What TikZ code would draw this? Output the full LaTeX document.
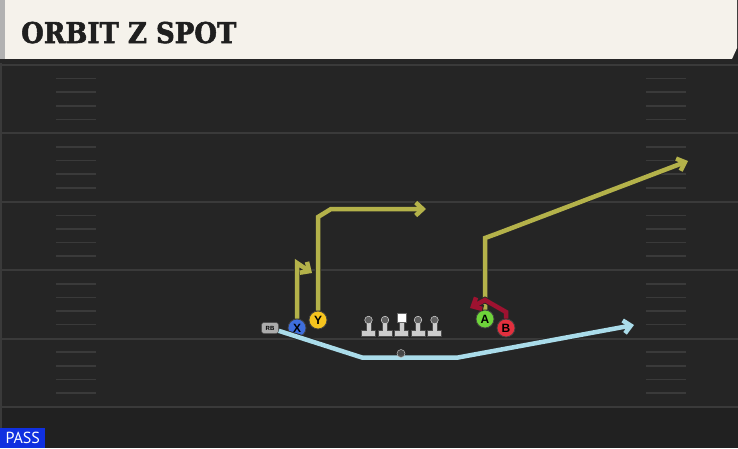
\documentclass[tikz,border=0pt]{standalone}
\usepackage{fontspec}
\setsansfont{Liberation Sans}
\newfontfamily\titlefont[BoldFeatures={FakeBold=2}]{DejaVu Serif}
\newfontfamily\tagfont{PT Sans}
\usepackage{tikz}
\usetikzlibrary{positioning}
\usetikzlibrary{arrows.meta}
\usetikzlibrary{calc}

\definecolor{fieldgray}{RGB}{37,37,37}
\definecolor{fieldlow}{RGB}{33,33,33}
\definecolor{yardline}{RGB}{58,58,58}
\definecolor{headcream}{RGB}{245,242,235}
\definecolor{routeolive}{RGB}{180,178,74}
\definecolor{routered}{RGB}{158,18,48}
\definecolor{routesky}{RGB}{170,220,234}
\definecolor{xblue}{RGB}{62,110,220}
\definecolor{yyellow}{RGB}{246,196,30}
\definecolor{agreen}{RGB}{110,212,58}
\definecolor{bred}{RGB}{226,48,62}
\definecolor{passblue}{RGB}{16,48,224}

\tikzset{
  player/.style={circle, draw=black!75, line width=0.8pt, fill=#1, minimum size=18pt,
    inner sep=0pt, font=\sffamily\bfseries\fontsize{12}{12}\selectfont},
  route/.style={draw=#1, line width=4.5pt, -{Straight Barb[length=7pt,width=13pt]},
    preaction={draw=black!85, line width=6.3pt}},
  hash/.style={draw=yardline, line width=1.6pt},
  rbtag/.style={rounded corners=2.5pt, fill=gray!65, draw=black!70, line width=0.5pt,
    font=\sffamily\bfseries\fontsize{6}{6}\selectfont, minimum width=17pt,
    minimum height=11pt, inner sep=0pt},
  lineman/.style={fill=gray!40, draw=black!70, line width=0.5pt}
}

\begin{document}
\begin{tikzpicture}[x=1pt,y=-1pt]
\useasboundingbox (0,0) rectangle (738,448);
\fill[fieldgray] (0,0) rectangle (738,448);
\fill[fieldlow] (0,407) rectangle (738,448);

\foreach \k in {0,...,5}
  \draw[yardline, line width=2pt] (0,{65+68.4*\k}) -- (738,{65+68.4*\k});
\foreach \k in {0,...,4}
  \foreach \m in {1,...,4} {
    \draw[hash] (56,{65+68.4*\k+13.6*\m}) -- (96,{65+68.4*\k+13.6*\m});
    \draw[hash] (646,{65+68.4*\k+13.6*\m}) -- (686,{65+68.4*\k+13.6*\m});
  }
\draw[yardline, line width=2pt] (1,63) -- (1,448);

\fill[headcream] (5,0) -- (737,0) -- (737,48) -- (732,59) -- (5,59) -- cycle;
\fill[gray!60] (0,0) rectangle (5,59);
\fill[black!85] (0,59) rectangle (738,63);
\node[anchor=base west, inner sep=0pt, text=black!88, yscale=1.1,
  font=\titlefont\bfseries\fontsize{26}{26}\selectfont] (title) at (21,43) {ORBIT Z SPOT};

\node[fill=passblue, text=white, anchor=south west, minimum width=45pt, minimum height=20pt,
  inner sep=0pt, font=\tagfont\fontsize{16}{16}\selectfont] (pass) at (0,448) {PASS};

\foreach \x in {368.5,385,401.5,418,434.5}
  \filldraw[lineman] (\x-2.5,321) -- (\x+2.5,321) -- (\x+2.5,330) -- (\x+7,330)
    -- (\x+7,336.5) -- (\x-7,336.5) -- (\x-7,330) -- (\x-2.5,330) -- cycle;
\foreach \x in {368.5,385,418,434.5}
  \filldraw[fill=gray!75!black, draw=gray!30, line width=0.5pt] (\x,320) circle (3.8pt);
\filldraw[fill=white, draw=black!60, line width=0.5pt] (397,313.5) rectangle (406,322);

\node[rbtag] (RB) at (270,328) {RB};
\node[player=xblue] (X) at (297,328) {X};
\node[player=yyellow] (Y) at (318,320) {Y};
\node[player=agreen] (A) at (485,319) {A};
\node[player=bred] (B) at (506,328) {B};

\coordinate (Xend) at (312,273);
\coordinate (Yend) at (426,209);
\coordinate (Aend) at (688,161);
\coordinate (Bend) at (470,308);
\coordinate (RBend) at (634,325);

\draw[route=routesky] (RB) -- (362,357.5) -- (458,357.5) -- (RBend);
\draw[route=routeolive] (X) -- (297,263) -- (Xend);
\draw[route=routeolive] (Y) -- (318,217) -- (331,209) -- (Yend);
\draw[route=routeolive] (A) -- (485,238) -- (496,234) -- (Aend);
\draw[route=routered] (B) -- (506,312) -- (485,300) -- (Bend);

\filldraw[fill=gray!60!black, draw=gray!45, line width=0.5pt, opacity=0.9] (401,353.5) circle (4pt);

\end{tikzpicture}
\end{document}
